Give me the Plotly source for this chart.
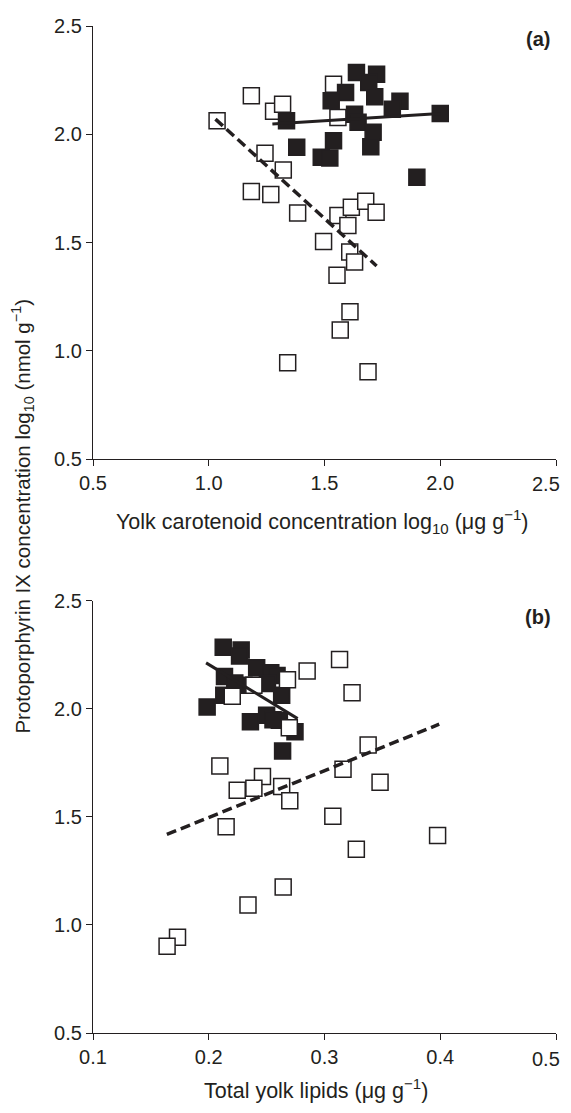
import plotly.graph_objects as go

# Panel (a): yolk carotenoid (log10) vs protoporphyrin IX (log10)
a_open_x = [1.036, 1.184, 1.280, 1.319, 1.558, 1.539, 1.243, 1.322, 1.184, 1.268, 1.384, 1.558,
            1.616, 1.678, 1.723, 1.601, 1.496, 1.609, 1.630, 1.554, 1.610, 1.568, 1.341, 1.688]
a_open_y = [2.063, 2.178, 2.106, 2.139, 2.078, 2.231, 1.912, 1.835, 1.736, 1.722, 1.637, 1.625,
            1.663, 1.691, 1.640, 1.579, 1.505, 1.456, 1.410, 1.349, 1.180, 1.096, 0.945, 0.904]
a_fill_x = [1.638, 1.725, 1.691, 1.591, 1.529, 1.717, 1.826, 1.793, 2.000, 1.630, 1.645, 1.336,
            1.710, 1.700, 1.539, 1.380, 1.486, 1.523, 1.899]
a_fill_y = [2.285, 2.277, 2.239, 2.193, 2.155, 2.173, 2.152, 2.116, 2.096, 2.093, 2.055, 2.063,
            2.009, 1.943, 1.970, 1.940, 1.894, 1.891, 1.802]
a_solid_x = [1.275, 2.000]
a_solid_y = [2.047, 2.096]
a_dash_x = [1.029, 1.725]
a_dash_y = [2.070, 1.392]

# Panel (b): total yolk lipids vs protoporphyrin IX (log10)
b_open_x = [0.285, 0.313, 0.268, 0.3238, 0.2203, 0.239, 0.2696, 0.3377, 0.2096, 0.316, 0.2464, 0.2246,
            0.239, 0.263, 0.270, 0.348, 0.3072, 0.215, 0.3977, 0.3275, 0.2643, 0.2339, 0.173, 0.164]
b_open_y = [2.175, 2.229, 2.135, 2.075, 2.058, 2.109, 1.913, 1.833, 1.736, 1.721, 1.687, 1.623,
            1.633, 1.641, 1.575, 1.660, 1.503, 1.454, 1.414, 1.350, 1.176, 1.092, 0.943, 0.902]
b_fill_x = [0.2125, 0.228, 0.2414, 0.2536, 0.259, 0.2136, 0.2304, 0.213, 0.1986, 0.263, 0.250,
            0.236, 0.261, 0.2745, 0.2638, 0.2507, 0.2266, 0.2555, 0.2225]
b_fill_y = [2.285, 2.273, 2.190, 2.167, 2.155, 2.150, 2.109, 2.063, 2.009, 2.063, 1.971,
            1.940, 1.948, 1.894, 1.805, 2.117, 2.245, 1.950, 2.120]
b_solid_x = [0.1977, 0.2768]
b_solid_y = [2.213, 1.955]
b_dash_x = [0.1638, 0.3991]
b_dash_y = [1.419, 1.929]

tick_vals_y = [0.5, 1.0, 1.5, 2.0, 2.5]
tick_text_y = ["0.5", "1.0", "1.5", "2.0", "2.5"]
tick_vals_xa = [0.5, 1.0, 1.5, 2.0, 2.5]
tick_text_xa = ["0.5", "1.0", "1.5", "2.0", "2.5"]
tick_vals_xb = [0.1, 0.2, 0.3, 0.4, 0.5]
tick_text_xb = ["0.1", "0.2", "0.3", "0.4", "0.5"]

ink = "#231f20"
FONT = "Liberation Sans, Arial, Helvetica, sans-serif"
msize = 16

# page body has an 8px margin; build the figure in page pixels minus that offset
OFF = 8
W, HT = 571 - 2 * OFF, 1113 - 2 * OFF

fig = go.Figure()

def add_panel(xa, ya, ox, oy, fx, fy, sx, sy, dx, dy, filled_on_top):
    open_tr = go.Scatter(x=ox, y=oy, mode="markers", xaxis=xa, yaxis=ya,
                         marker=dict(symbol="square", size=msize, color="white",
                                     line=dict(color=ink, width=1.5)))
    fill_tr = go.Scatter(x=fx, y=fy, mode="markers", xaxis=xa, yaxis=ya,
                         marker=dict(symbol="square", size=msize, color=ink,
                                     line=dict(color=ink, width=1.5)))
    if filled_on_top:
        fig.add_trace(open_tr); fig.add_trace(fill_tr)
    else:
        fig.add_trace(fill_tr); fig.add_trace(open_tr)
    fig.add_trace(go.Scatter(x=sx, y=sy, mode="lines", xaxis=xa, yaxis=ya,
                             line=dict(color=ink, width=3)))
    fig.add_trace(go.Scatter(x=dx, y=dy, mode="lines", xaxis=xa, yaxis=ya,
                             line=dict(color=ink, width=3.5, dash="10px,5px")))

add_panel("x", "y", a_open_x, a_open_y, a_fill_x, a_fill_y,
          a_solid_x, a_solid_y, a_dash_x, a_dash_y, True)
add_panel("x2", "y2", b_open_x, b_open_y, b_fill_x, b_fill_y,
          b_solid_x, b_solid_y, b_dash_x, b_dash_y, False)

axis_common = dict(showline=True, linecolor=ink, linewidth=1.3, ticks="outside",
                   ticklen=6, tickwidth=1.3, tickcolor=ink, showgrid=False, zeroline=False,
                   tickfont=dict(family=FONT, size=20, color=ink), mirror=False)

# reference page pixels
plot_left, plot_right = 93, 556
a_top, a_bot = 17, 454
b_top, b_bot = 597, 1033

L = plot_left - OFF
R = W - (plot_right - OFF)
T = a_top - OFF
B = HT - (b_bot - OFF)
H = HT - T - B

def py(pix):
    return ((b_bot - OFF) - (pix - OFF)) / H

def px(pix):
    return ((pix - OFF) - L) / (W - L - R)

fig.update_layout(
    width=W, height=HT,
    margin=dict(l=L, r=R, t=T, b=B),
    paper_bgcolor="white", plot_bgcolor="white",
    showlegend=False,
    xaxis=dict(range=[0.5, 2.5], tickvals=tick_vals_xa, ticktext=tick_text_xa,
               anchor="y", **axis_common),
    yaxis=dict(range=[0.5, 2.5], tickvals=tick_vals_y, ticktext=tick_text_y,
               domain=[py(a_bot), 1], anchor="x", **axis_common),
    xaxis2=dict(range=[0.1, 0.5], tickvals=tick_vals_xb, ticktext=tick_text_xb,
                anchor="y2", **axis_common),
    yaxis2=dict(range=[0.5, 2.5], tickvals=tick_vals_y, ticktext=tick_text_y,
                domain=[0, py(b_top)], anchor="x2", **axis_common),
)

ann = [
    dict(text="Yolk carotenoid concentration log<sub>10</sub> (μg g<sup>−1</sup>)",
         x=px(322), y=py(517), size=21.5, angle=0),
    dict(text="Total yolk lipids (μg g<sup>−1</sup>)",
         x=px(316), y=py(1089), size=21.5, angle=0),
    dict(text="Protoporphyrin IX concentration log<sub>10</sub> (nmol g<sup>−1</sup>)",
         x=px(23), y=py(512), size=20.5, angle=-90),
    dict(text="<b>(a)</b>", x=px(538), y=py(30), size=20, angle=0),
    dict(text="<b>(b)</b>", x=px(538), y=py(613), size=20, angle=0),
]
for a in ann:
    fig.add_annotation(text=a["text"], x=a["x"], y=a["y"], xref="paper", yref="paper",
                       xanchor="center", yanchor="middle", showarrow=False,
                       textangle=a["angle"],
                       font=dict(family=FONT, size=a["size"], color=ink))

# last x tick labels sit at the right page edge (plotly hides them); keep them inside the page
fig.add_annotation(text=tick_text_xa[-1], x=tick_vals_xa[-1], xref="x", y=py(479), yref="paper",
                   xanchor="center", yanchor="middle", showarrow=False, xshift=-10,
                   font=dict(family=FONT, size=20, color=ink))
fig.add_annotation(text=tick_text_xb[-1], x=tick_vals_xb[-1], xref="x2", y=py(1059), yref="paper",
                   xanchor="center", yanchor="middle", showarrow=False, xshift=-10,
                   font=dict(family=FONT, size=20, color=ink))

fig.write_html("out.html")
